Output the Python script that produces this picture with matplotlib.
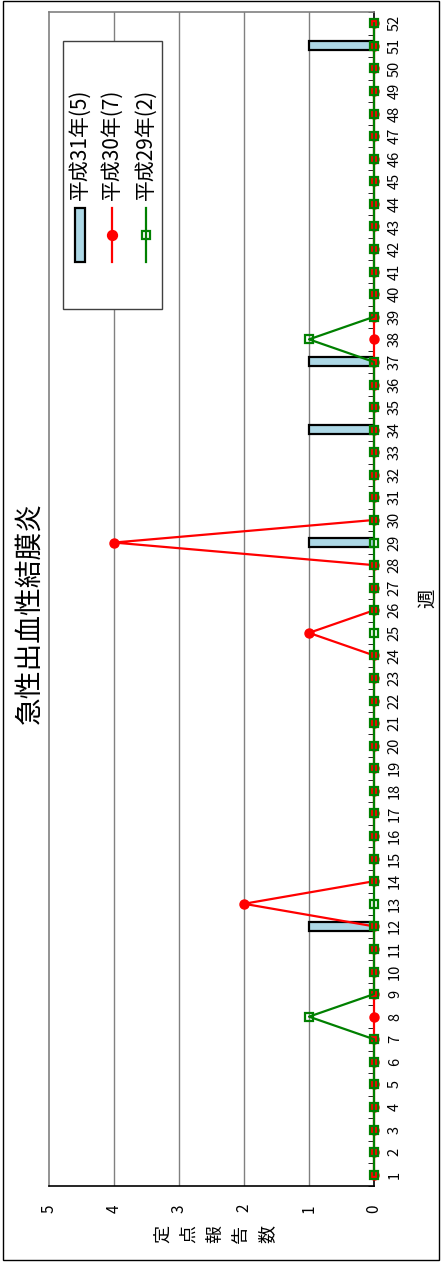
import matplotlib
matplotlib.use("Agg")
import matplotlib.pyplot as plt
from matplotlib.patches import Rectangle
from matplotlib.lines import Line2D

plt.rcParams['font.family'] = ['Noto Sans CJK JP', 'DejaVu Sans']

title = "急性出血性結膜炎"
ylabel = "定点報告数"
weeks = list(range(1, 53))
count_ticks = [0, 1, 2, 3, 4, 5]
labels = ["平成31年(5)", "平成30年(7)", "平成29年(2)"]

h31 = [0, 0, 0, 0, 0, 0, 0, 0, 0, 0, 0, 1, 0, 0, 0, 0, 0, 0, 0, 0, 0, 0, 0, 0, 0, 0,
       0, 0, 1, 0, 0, 0, 0, 1, 0, 0, 1, 0, 0, 0, 0, 0, 0, 0, 0, 0, 0, 0, 0, 0, 1, 0]
h30 = [0, 0, 0, 0, 0, 0, 0, 0, 0, 0, 0, 0, 2, 0, 0, 0, 0, 0, 0, 0, 0, 0, 0, 0, 1, 0,
       0, 0, 4, 0, 0, 0, 0, 0, 0, 0, 0, 0, 0, 0, 0, 0, 0, 0, 0, 0, 0, 0, 0, 0, 0, 0]
h29 = [0, 0, 0, 0, 0, 0, 0, 1, 0, 0, 0, 0, 0, 0, 0, 0, 0, 0, 0, 0, 0, 0, 0, 0, 0, 0,
       0, 0, 0, 0, 0, 0, 0, 0, 0, 0, 0, 1, 0, 0, 0, 0, 0, 0, 0, 0, 0, 0, 0, 0, 0, 0]

bar_col = "#add8e6"
red = "#ff0000"
green = "#008000"

W, H = 442, 1262
fig = plt.figure(figsize=(W / 100, H / 100), dpi=100)

def fx(px):
    return px / W

def fy(py):
    return 1 - py / H

# whole chart is drawn turned 90 degrees: weeks run bottom->top, counts right->left
ax = fig.add_axes([fx(49), fy(1186), fx(374) - fx(49), fy(12) - fy(1186)])
ax.set_xlim(5, 0)
ax.set_ylim(0.5, 52.5)

for v in [1, 2, 3, 4]:
    ax.axvline(v, color="#808080", lw=1, zorder=1)

ax.barh(weeks, h31, height=0.4, color=bar_col, edgecolor="black", lw=1.6, zorder=2)
ax.plot(h30, weeks, color=red, lw=1.6, marker="o", ms=6.5, mfc=red, mec=red, zorder=3,
        clip_on=False)
ax.plot(h29, weeks, color=green, lw=1.6, marker="s", ms=6, mfc="none", mec=green,
        mew=1.6, zorder=4, clip_on=False)

ax.spines['top'].set_color("#808080")
ax.spines['left'].set_color("#808080")
ax.spines['bottom'].set_color("black")
ax.spines['right'].set_color("black")
for s in ax.spines.values():
    s.set_linewidth(1.2)

ax.set_xticks(count_ticks)
ax.set_xticklabels([str(c) for c in count_ticks], rotation=90, fontsize=11)
ax.tick_params(axis='x', length=0, pad=13)

ax.yaxis.tick_right()
ax.set_yticks(weeks)
ax.set_yticklabels([str(w) for w in weeks], rotation=90, fontsize=10.5, va='center')
ax.set_yticks([w + 0.5 for w in [0] + weeks], minor=True)
ax.tick_params(axis='y', which='major', length=0, pad=10)
ax.tick_params(axis='y', which='minor', direction='in', length=4, color='black',
               right=True, left=False)

fig.text(fx(30), fy(613), title, rotation=90, ha='center', va='center', fontsize=20)
fig.text(fx(428), fy(598), "週", rotation=90, ha='center', va='center', fontsize=14)
# stacked label, one turned character at a time
for i, ch in enumerate(ylabel):
    fig.text(fx(163 + 26 * i), fy(1234), ch, rotation=90, ha='center', va='center',
             fontsize=13)

# legend, drawn by hand since it is rotated too
fig.patches.append(Rectangle((fx(63), fy(309)), fx(162) - fx(63), fy(41) - fy(309),
                             transform=fig.transFigure, facecolor="white",
                             edgecolor="#404040", lw=1, zorder=5))
fig.patches.append(Rectangle((fx(75), fy(262)), fx(85) - fx(75), fy(208) - fy(262),
                             transform=fig.transFigure, facecolor=bar_col,
                             edgecolor="black", lw=1.6, zorder=6))
for xc, col, mk, mfc in [(112, red, "o", red), (146, green, "s", "none")]:
    fig.lines.append(Line2D([fx(xc), fx(xc)], [fy(262), fy(208)], transform=fig.transFigure,
                            color=col, lw=1.6, zorder=6))
    fig.lines.append(Line2D([fx(xc)], [fy(235)], transform=fig.transFigure, marker=mk,
                            ms=6.5 if mk == "o" else 6, mfc=mfc, mec=col, mew=1.6,
                            color=col, zorder=7))
for xc, lab in zip([80, 112, 146], labels):
    fig.text(fx(xc), fy(200), lab, rotation=90, ha='center', va='bottom', fontsize=15,
             zorder=7)

fig.patches.append(Rectangle((fx(3), fy(1260)), fx(439) - fx(3), fy(1) - fy(1260),
                             transform=fig.transFigure, facecolor="none",
                             edgecolor="black", lw=1))

fig.savefig("out.png", dpi=100)
